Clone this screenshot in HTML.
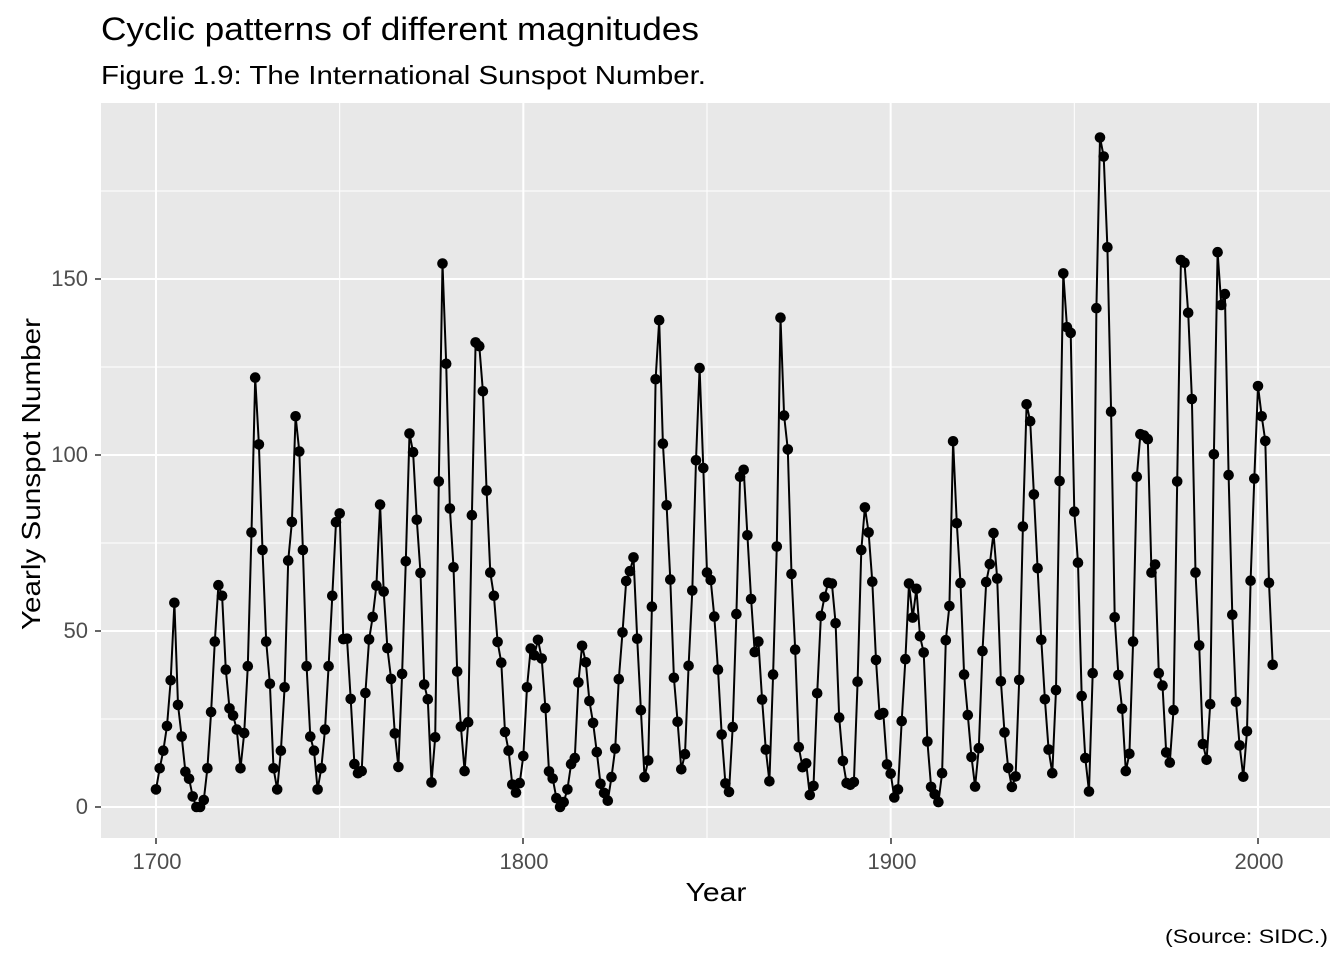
<!DOCTYPE html>
<html><head><meta charset="utf-8"><style>
body{margin:0;background:#fff;}
svg text{font-family:"Liberation Sans",Arial,sans-serif;}
</style></head><body>
<svg id="s" width="1344" height="960" xmlns="http://www.w3.org/2000/svg">
<rect width="1344" height="960" fill="#fff"/>
<text x="101" y="40" font-size="32" fill="#000" textLength="598" lengthAdjust="spacingAndGlyphs">Cyclic patterns of different magnitudes</text>
<text x="101" y="84" font-size="26" fill="#000" textLength="605" lengthAdjust="spacingAndGlyphs">Figure 1.9: The International Sunspot Number.</text>
<rect x="101" y="103" width="1229" height="735" fill="#E8E8E8"/>
<g id="grid"></g>
<g id="data"></g>
<g font-size="22" fill="#4D4D4D" text-anchor="end">
<text x="88" y="814">0</text><text x="88" y="638">50</text><text x="88" y="462">100</text><text x="88" y="286">150</text>
</g>
<g font-size="22" fill="#4D4D4D" text-anchor="middle">
<text x="157" y="869">1700</text><text x="524" y="869">1800</text><text x="892" y="869">1900</text><text x="1259" y="869">2000</text>
</g>
<g stroke="#333" stroke-width="1.5">
<line x1="95" x2="101" y1="807" y2="807"/><line x1="95" x2="101" y1="631" y2="631"/><line x1="95" x2="101" y1="455" y2="455"/><line x1="95" x2="101" y1="279" y2="279"/>
<line x1="156" x2="156" y1="838" y2="844"/><line x1="523" x2="523" y1="838" y2="844"/><line x1="891" x2="891" y1="838" y2="844"/><line x1="1258" x2="1258" y1="838" y2="844"/>
</g>
<text x="716" y="901" font-size="26" text-anchor="middle" textLength="61" lengthAdjust="spacingAndGlyphs">Year</text>
<text transform="translate(40,474) rotate(-90)" font-size="26" text-anchor="middle" textLength="312" lengthAdjust="spacingAndGlyphs">Yearly Sunspot Number</text>
<text x="1328" y="943" font-size="19" text-anchor="end" textLength="163" lengthAdjust="spacingAndGlyphs">(Source: SIDC.)</text>
</svg>
<script>
var v=[5,11,16,23,36,58,29,20,10,8,3,0,0,2,11,27,47,63,60,39,28,26,22,11,21,40,78,122,103,73,47,35,11,5,16,34,70,81,111,101,73,40,20,16,5,11,22,40,60,80.9,83.4,47.7,47.8,30.7,12.2,9.6,10.2,32.4,47.6,54,62.9,85.9,61.2,45.1,36.4,20.9,11.4,37.8,69.8,106.1,100.8,81.6,66.5,34.8,30.6,7,19.8,92.5,154.4,125.9,84.8,68.1,38.5,22.8,10.2,24.1,82.9,132,130.9,118.1,89.9,66.6,60,46.9,41,21.3,16,6.4,4.1,6.8,14.5,34,45,43.1,47.5,42.2,28.1,10.1,8.1,2.5,0,1.4,5,12.2,13.9,35.4,45.8,41.1,30.1,23.9,15.6,6.6,4,1.8,8.5,16.6,36.3,49.6,64.2,67,70.9,47.8,27.5,8.5,13.2,56.9,121.5,138.3,103.2,85.7,64.6,36.7,24.2,10.7,15,40.1,61.5,98.5,124.7,96.3,66.6,64.5,54.1,39,20.6,6.7,4.3,22.7,54.8,93.8,95.8,77.2,59.1,44,47,30.5,16.3,7.3,37.6,74,139,111.2,101.6,66.2,44.7,17,11.3,12.4,3.4,6,32.3,54.3,59.7,63.7,63.5,52.2,25.4,13.1,6.8,6.3,7.1,35.6,73,85.1,78,64,41.8,26.2,26.7,12.1,9.5,2.7,5,24.4,42,63.5,53.8,62,48.5,43.9,18.6,5.7,3.6,1.4,9.6,47.4,57.1,103.9,80.6,63.6,37.6,26.1,14.2,5.8,16.7,44.3,63.9,69,77.8,64.9,35.7,21.2,11.1,5.7,8.7,36.1,79.7,114.4,109.6,88.8,67.8,47.5,30.6,16.3,9.6,33.2,92.6,151.6,136.3,134.7,83.9,69.4,31.5,13.9,4.4,38,141.7,190.2,184.8,159,112.3,53.9,37.5,27.9,10.2,15.1,47,93.8,105.9,105.5,104.5,66.6,68.9,38,34.5,15.5,12.6,27.5,92.5,155.4,154.6,140.4,115.9,66.6,45.9,17.9,13.4,29.2,100.2,157.6,142.6,145.7,94.3,54.6,29.9,17.5,8.6,21.5,64.3,93.3,119.6,111.0,104.0,63.7,40.4];
function X(y){return 156+(y-1700)*3.6733;}function Y(v){return 807-v*3.52;}
var g=document.getElementById("grid"),h="";
[25,75,125,175].forEach(function(t){h+='<line x1="101" x2="1330" y1="'+Y(t)+'" y2="'+Y(t)+'" stroke="#fff" stroke-width="1"/>';});
[1750,1850,1950].forEach(function(t){h+='<line y1="103" y2="838" x1="'+X(t)+'" x2="'+X(t)+'" stroke="#fff" stroke-width="1"/>';});
[0,50,100,150].forEach(function(t){h+='<line x1="101" x2="1330" y1="'+Y(t)+'" y2="'+Y(t)+'" stroke="#fff" stroke-width="2"/>';});
[1700,1800,1900,2000].forEach(function(t){h+='<line y1="103" y2="838" x1="'+X(t)+'" x2="'+X(t)+'" stroke="#fff" stroke-width="2"/>';});
g.innerHTML=h;
var p="",c="";
v.forEach(function(d,i){var x=X(1700+i).toFixed(1),y=Y(d).toFixed(1);p+=(i?"L":"M")+x+" "+y;c+='<circle cx="'+x+'" cy="'+y+'" r="5.3"/>';});
document.getElementById("data").innerHTML='<path d="'+p+'" fill="none" stroke="#000" stroke-width="2"/>'+c;
</script>
</body></html>
